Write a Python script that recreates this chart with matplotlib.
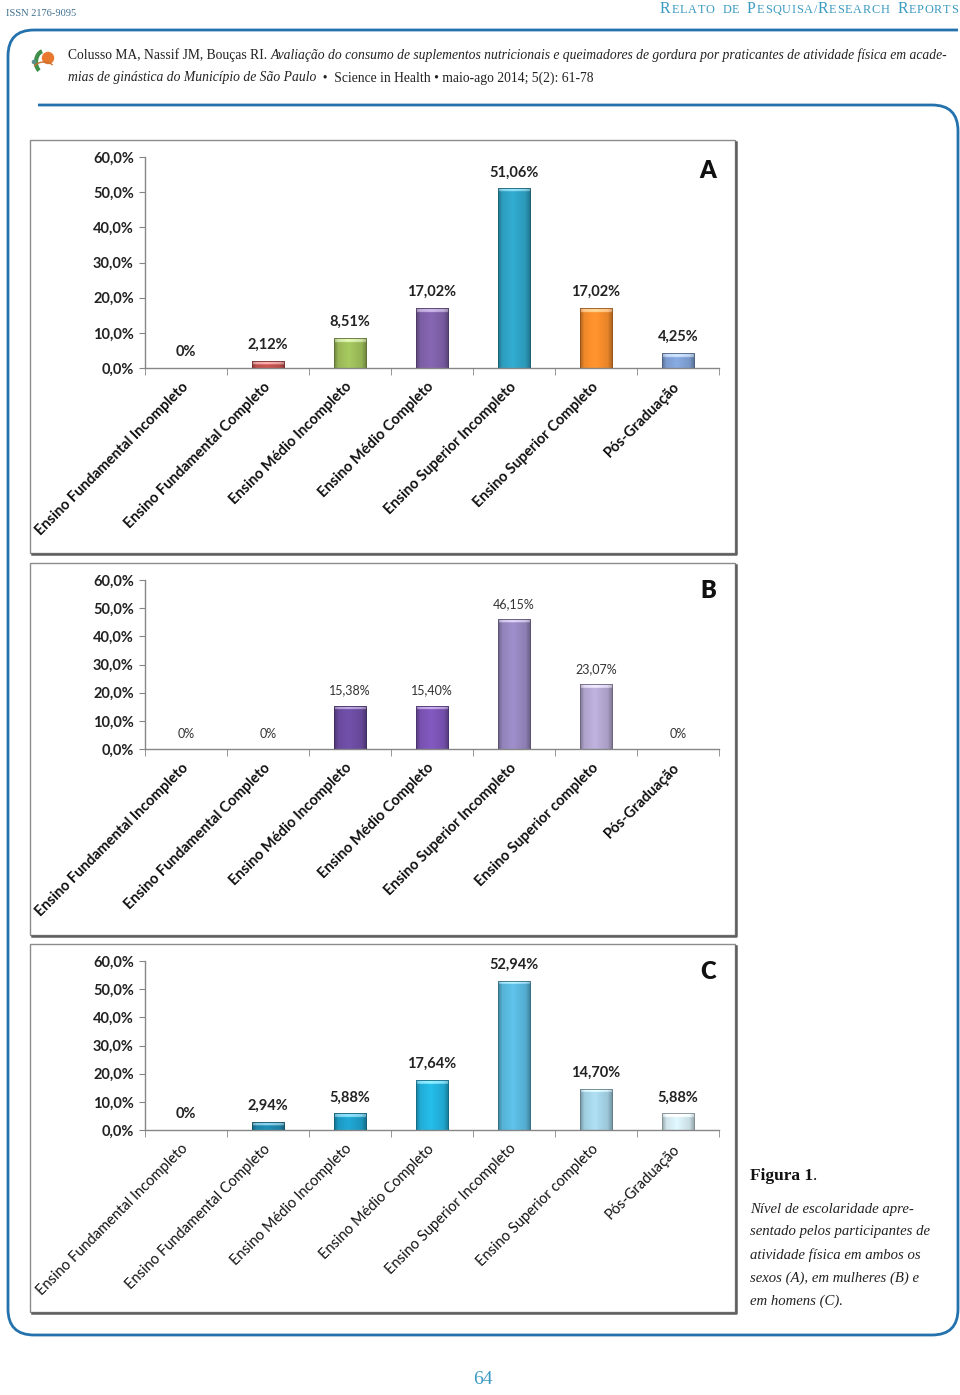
import matplotlib
matplotlib.use("Agg")
import matplotlib.pyplot as plt
from matplotlib.patches import Rectangle, Circle, Arc, PathPatch
from matplotlib.path import Path
from matplotlib.colors import to_rgb
import numpy as np

W, H = 960, 1395

# ---- data -------------------------------------------------------------
cats_a = ["Ensino Fundamental Incompleto", "Ensino Fundamental Completo",
          "Ensino Médio Incompleto", "Ensino Médio Completo",
          "Ensino Superior Incompleto", "Ensino Superior Completo",
          "Pós-Graduação"]
cats_bc = ["Ensino Fundamental Incompleto", "Ensino Fundamental Completo",
           "Ensino Médio Incompleto", "Ensino Médio Completo",
           "Ensino Superior Incompleto", "Ensino Superior completo",
           "Pós-Graduação"]

vals_a = [0, 2.12, 8.51, 17.02, 51.06, 17.02, 4.25]
labels_a = ["0%", "2,12%", "8,51%", "17,02%", "51,06%", "17,02%", "4,25%"]
vals_b = [0, 0, 15.38, 15.40, 46.15, 23.07, 0]
labels_b = ["0%", "0%", "15,38%", "15,40%", "46,15%", "23,07%", "0%"]
vals_c = [0, 2.94, 5.88, 17.64, 52.94, 14.70, 5.88]
labels_c = ["0%", "2,94%", "5,88%", "17,64%", "52,94%", "14,70%", "5,88%"]

yticks = [0, 10, 20, 30, 40, 50, 60]
ytick_labels = ["0,0%", "10,0%", "20,0%", "30,0%", "40,0%", "50,0%", "60,0%"]

colors_a = ["#c0504d", "#c0504d", "#9bbb59", "#7d5fa6", "#2ea0c2", "#f38b2b", "#7e9fd3"]
colors_b = ["#7a5cb0", "#7a5cb0", "#6a4b9f", "#7a53b3", "#9485bd", "#b2a6cf", "#b2a6cf"]
colors_c = ["#1f86ab", "#1f86ab", "#1e9cc6", "#22b0da", "#58b5da", "#a2d0e3", "#d2e7ee"]

BLUE = "#2472ad"
TEAL = "#3b9ac0"
SANS = ["Lato", "DejaVu Sans"]
SERIF = ["Liberation Serif", "DejaVu Serif"]

fig = plt.figure(figsize=(W / 100, H / 100), dpi=100)
bg = fig.add_axes([0, 0, 1, 1], zorder=0)
bg.set_xlim(0, W)
bg.set_ylim(H, 0)
bg.axis("off")
renderer = fig.canvas.get_renderer()


def runs(x, y, parts, gap=0, **kw):
    """draw text pieces one after the other, return objects and total width"""
    objs = []
    x0 = x
    for s, style in parts:
        t = bg.text(x, y, s, **kw, **style)
        bb = t.get_window_extent(renderer=renderer)
        x += bb.width + gap
        objs.append(t)
    return objs, x - x0 - gap


# ---- page furniture ---------------------------------------------------
bg.text(6, 14, "ISSN 2176-9095", family=SERIF, fontsize=7.5, color="#3d6f8f", va="center")

sc = []
for big, tail in [("R", "ELATO"), ("", " DE "), ("P", "ESQUISA/"), ("R", "ESEARCH "), ("R", "EPORTS")]:
    for ch in big:
        sc.append((ch, dict(fontsize=11.5)))
    for ch in tail:
        sc.append((ch if ch != " " else "\u2002", dict(fontsize=8.8)))
objs, wd = runs(0, 13, sc, gap=0.75, family=SERIF, color=TEAL, va="baseline")
for t in objs:
    t.set_x(t.get_position()[0] + 958 - wd)

# rounded frame
r = 26
verts = [(958, 30), (8 + r, 30), (8, 30), (8, 30 + r), (8, 1335 - r), (8, 1335), (8 + r, 1335),
         (958 - r, 1335), (958, 1335), (958, 1335 - r), (958, 105 + r), (958, 105), (958 - r, 105),
         (38, 105)]
codes = [Path.MOVETO, Path.LINETO, Path.CURVE3, Path.CURVE3, Path.LINETO, Path.CURVE3, Path.CURVE3,
         Path.LINETO, Path.CURVE3, Path.CURVE3, Path.LINETO, Path.CURVE3, Path.CURVE3, Path.LINETO]
bg.add_patch(PathPatch(Path(verts, codes), fill=False, edgecolor=BLUE, lw=2))

# little logo
bg.add_patch(Circle((48, 58), 5.5, color="#e9782f"))
bg.add_patch(Arc((44, 62), 16, 22, theta1=120, theta2=260, color="#3f8f4a", lw=3))
bg.add_patch(Arc((44, 70), 22, 16, theta1=200, theta2=330, color="#c8702c", lw=1))
bg.add_patch(Circle((34, 62), 1.6, color="#5a8f8a"))

hdr = dict(family=SERIF, fontsize=9.8, color="#222222", va="center")
runs(68, 55, [("Colusso MA, Nassif JM, Bouças RI. ", {}),
              ("Avaliação do consumo de suplementos nutricionais e queimadores de gordura por "
               "praticantes de atividade física em acade-", dict(style="italic"))], **hdr)
runs(68, 78, [("mias de ginástica do Município de São Paulo", dict(style="italic")),
              ("  •  Science in Health • maio-ago 2014; 5(2): 61-78", {})], **hdr)

# caption
runs(750, 1176, [("Figura 1", dict(fontweight="bold")), (".", {})],
     family=SERIF, fontsize=12.5, color="#111111", va="center")
cap = ["Nível de escolaridade apre-", "sentado pelos participantes de",
       "atividade física em ambos os", "sexos (A), em mulheres (B) e", "em homens (C)."]
for i, line in enumerate(cap):
    bg.text(750, 1209 + 23 * i, line, family=SERIF, style="italic", fontsize=10.6,
            color="#222222", va="center")

bg.text(483, 1380, "64", family=SERIF, fontsize=14, color=TEAL, ha="center", va="center")


# ---- charts -----------------------------------------------------------
def chart_box(x0, y0, x1, y1):
    bg.add_patch(Rectangle((x0, y0), x1 - x0, y1 - y0, facecolor="white",
                           edgecolor="#8c8c8c", lw=1, zorder=1))
    bg.plot([x0 + 2, x1 + 1, x1 + 1], [y1 + 1, y1 + 1, y0 + 2], color="#5f5f5f", lw=1.8, zorder=1)


def bevel_bars(ax, vals, colors, px_per_unit):
    xs = np.arange(len(vals))
    dark = [tuple(np.array(to_rgb(c)) * 0.6) for c in colors]
    bars = ax.bar(xs, vals, width=0.4, facecolor="none", edgecolor=dark, lw=0.6, zorder=3)
    t = np.linspace(0, 1, 40)
    shade = np.interp(t, [0, 0.12, 0.45, 0.85, 1], [0.72, 0.98, 1.08, 0.95, 0.7])
    for b, c in zip(bars, colors):
        h = b.get_height()
        if h <= 0:
            continue
        rgb = np.array(to_rgb(c))
        rows = 120
        img = np.clip(rgb[None, None, :] * shade[None, :, None], 0, 1).repeat(rows, axis=0)
        cap_rows = int(min(rows, rows * (4.0 / px_per_unit) / h))
        light = rgb + (1 - rgb) * 0.35
        img[rows - cap_rows:, :, :] = np.clip(light[None, None, :] * (0.15 + 0.85 * shade[None, :, None]) + 0.1, 0, 1)
        x0 = b.get_x()
        im = ax.imshow(img, extent=[x0, x0 + b.get_width(), 0, h], origin="lower",
                       aspect="auto", zorder=2, interpolation="bilinear")
        im.set_clip_path(b)
    return bars


def chart(rect_px, vals, labels, colors, cats, letter, bold_cats, val_style):
    left, top, right, bottom = rect_px
    ax = fig.add_axes([left / W, 1 - bottom / H, (right - left) / W, (bottom - top) / H], zorder=2)
    ax.set_facecolor("none")
    px_per_unit = (bottom - top) / 60.0
    bevel_bars(ax, vals, colors, px_per_unit)
    ax.set_xlim(-0.5, len(vals) - 0.5)
    ax.set_ylim(0, 60)
    for s in ["top", "right"]:
        ax.spines[s].set_visible(False)
    for s in ["left", "bottom"]:
        ax.spines[s].set_color("#868686")
        ax.spines[s].set_linewidth(1)
    ax.set_yticks(yticks)
    ax.set_yticklabels(ytick_labels, family=SANS, fontweight="bold", fontsize=10.5, color="#222222")
    ax.tick_params(axis="y", length=4, color="#868686", pad=4)
    ax.set_xticks(np.arange(len(vals)))
    ax.set_xticklabels(cats, rotation=45, ha="right", va="center", rotation_mode="anchor",
                       family=SANS, fontweight="bold" if bold_cats else "normal",
                       fontsize=10.5, color="#111111")
    ax.tick_params(axis="x", length=0, pad=12)
    ax.set_xticks(np.arange(len(vals) + 1) - 0.5, minor=True)
    ax.tick_params(axis="x", which="minor", length=5, color="#868686")
    for i, (v, lbl) in enumerate(zip(vals, labels)):
        ax.annotate(lbl, (i, v), xytext=(0, 6.5), textcoords="offset points",
                    ha="center", va="bottom", family=SANS, **val_style)
    ax.text(0.995, 0.935, letter, transform=ax.transAxes, ha="right", va="center",
            family=SANS, fontweight="heavy", fontsize=17, color="#111111")
    return ax


chart_box(30, 140, 735, 553)
chart_box(30, 563, 735, 935)
chart_box(30, 944, 735, 1312)

bold_val = dict(fontweight="bold", fontsize=10.5, color="#222222")
thin_val = dict(fontweight="normal", fontsize=9, color="#333333")

chart((145, 157, 719, 368), vals_a, labels_a, colors_a, cats_a, "A", True, bold_val)
chart((145, 580, 719, 749), vals_b, labels_b, colors_b, cats_bc, "B", True, thin_val)
chart((145, 961, 719, 1130), vals_c, labels_c, colors_c, cats_bc, "C", False, bold_val)

fig.savefig("out.png", dpi=100)
